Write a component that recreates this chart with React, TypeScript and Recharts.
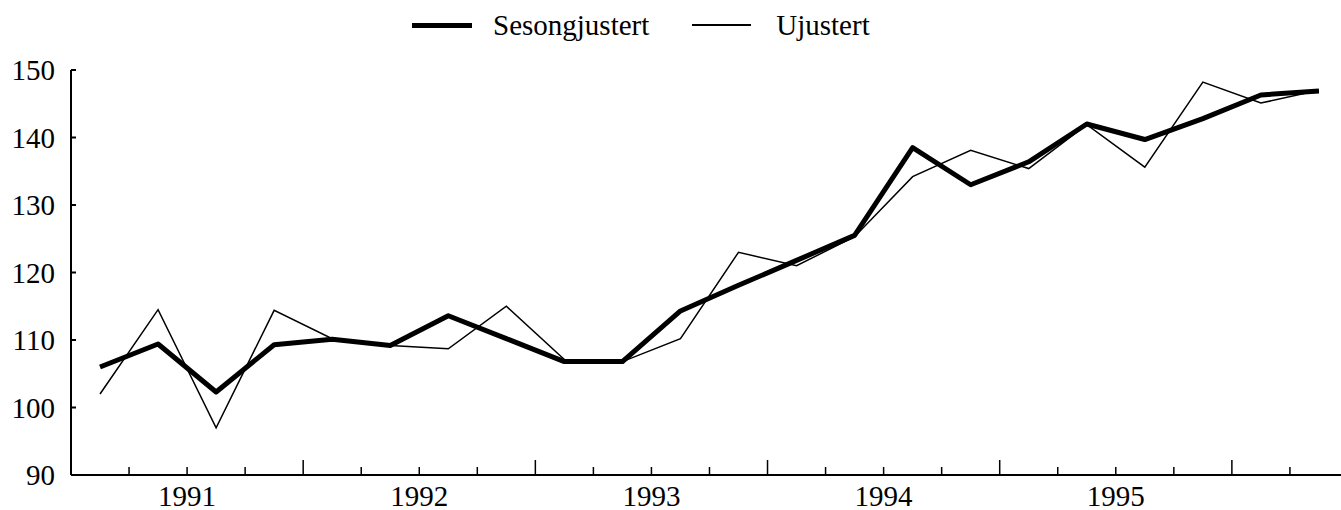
import { LineChart, Line, XAxis, YAxis, Legend } from 'recharts'

// Quarterly index, 1991 Q1 - 1996 Q2
const years = [1991, 1992, 1993, 1994, 1995]
const sesongjustert = [
  106.0, 109.4, 102.3, 109.3,
  110.1, 109.2, 113.6, 110.2,
  106.8, 106.8, 114.3, 118.1,
  121.8, 125.5, 138.5, 133.0,
  136.4, 142.0, 139.7, 142.8,
  146.3, 146.9,
]
const ujustert = [
  102.0, 114.5, 97.0, 114.4,
  110.2, 109.2, 108.7, 115.0,
  107.1, 106.8, 110.2, 123.0,
  121.0, 125.3, 134.2, 138.1,
  135.4, 141.9, 135.6, 148.2,
  145.1, 147.0,
]
const yTicks = [90, 100, 110, 120, 130, 140, 150]
const quarterTicks = Array.from({ length: 22 }, (_, i) => i)

const data = sesongjustert.map((v, i) => ({
  q: i + 0.5,
  sesong: v,
  ujust: ujustert[i],
}))

const FONT = '"Liberation Serif", "Times New Roman", serif'

const XTick = (props: any) => {
  const { x, y, payload } = props
  const q = payload.value as number
  const isYear = q % 4 === 0
  const label = q % 4 === 2 ? years[(q - 2) / 4] : null
  return (
    <g>
      {q > 0 && (
        <line x1={x} x2={x} y1={y} y2={y - (isYear ? 15 : 8)} stroke="#000" strokeWidth={1.5} />
      )}
      {label && (
        <text x={x} y={y + 31} textAnchor="middle" fontSize={29} fontFamily={FONT} fill="#000">
          {label}
        </text>
      )}
    </g>
  )
}

const YTick = (props: any) => {
  const { x, y, payload } = props
  return (
    <g>
      {payload.value !== 90 && (
        <line x1={x} x2={x + 5} y1={y} y2={y} stroke="#000" strokeWidth={2} />
      )}
      <text x={x - 16} y={y} dy="0.35em" textAnchor="end" fontSize={29} fontFamily={FONT} fill="#000">
        {payload.value}
      </text>
    </g>
  )
}

const LegendContent = () => (
  <div
    style={{
      display: 'flex',
      alignItems: 'center',
      height: 50,
      paddingLeft: 412,
      fontFamily: FONT,
      fontSize: 29,
      color: '#000',
    }}
  >
    <div style={{ width: 60, height: 5, background: '#000' }} />
    <span style={{ marginLeft: 21 }}>Sesongjustert</span>
    <div style={{ width: 59, height: 1.5, background: '#000', marginLeft: 43 }} />
    <span style={{ marginLeft: 25 }}>Ujustert</span>
  </div>
)

export default function App() {
  return (
    <div style={{ position: 'absolute', left: 0, top: 0, background: '#fff' }}>
      <LineChart width={1341} height={510} data={data} margin={{ top: 20, right: 0, bottom: 0, left: 0 }}>
        <Legend
          verticalAlign="top"
          align="left"
          content={<LegendContent />}
          wrapperStyle={{ height: 50, width: 1341, left: 0, top: 0 }}
        />
        <XAxis
          dataKey="q"
          type="number"
          domain={[0, 21.88]}
          ticks={quarterTicks}
          interval={0}
          height={35}
          tickSize={0}
          tickMargin={0}
          tickLine={false}
          axisLine={{ stroke: '#000', strokeWidth: 2 }}
          tick={<XTick />}
        />
        <YAxis
          type="number"
          domain={[90, 150]}
          ticks={yTicks}
          interval={0}
          width={71}
          tickSize={0}
          tickMargin={0}
          tickLine={false}
          axisLine={{ stroke: '#000', strokeWidth: 2 }}
          tick={<YTick />}
        />
        <Line
          dataKey="ujust"
          stroke="#000"
          strokeWidth={1.5}
          dot={false}
          type="linear"
          isAnimationActive={false}
        />
        <Line
          dataKey="sesong"
          stroke="#000"
          strokeWidth={5}
          dot={false}
          type="linear"
          strokeLinejoin="round"
          isAnimationActive={false}
        />
      </LineChart>
    </div>
  )
}
